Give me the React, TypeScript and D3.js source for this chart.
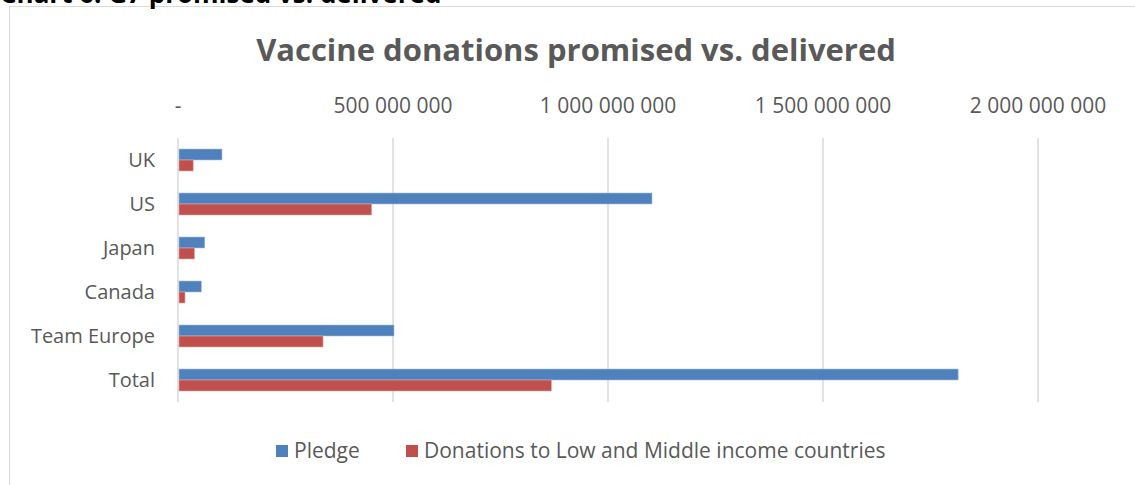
import React, { useEffect, useRef } from "react";
import * as d3 from "d3";

const categories = ["UK", "US", "Japan", "Canada", "Team Europe", "Total"];
const pledge = [100e6, 1100e6, 60e6, 52e6, 500e6, 1812e6];
const delivered = [33e6, 448e6, 36e6, 14e6, 335e6, 866e6];
const seriesNames = ["Pledge", "Donations to Low and Middle income countries"];
const seriesColors = ["#4F81BD", "#C0504D"];
const xTicks = [0, 500e6, 1000e6, 1500e6, 2000e6];

const FONT = "'Open Sans', Lato, sans-serif";

const App: React.FC = () => {
  const ref = useRef<SVGSVGElement | null>(null);

  useEffect(() => {
    const width = 1135;
    const height = 485;
    const margin = { top: 138, left: 178, right: 1135 - 1038, bottom: 485 - 402 };
    const w = width - margin.left - margin.right;
    const h = height - margin.top - margin.bottom;

    d3.select(ref.current).selectAll("*").remove();
    const root = d3.select(ref.current).attr("width", width).attr("height", height);

    // Chart frame
    root
      .append("rect")
      .attr("x", 9.5)
      .attr("y", 6.5)
      .attr("width", width + 10)
      .attr("height", height + 10)
      .attr("fill", "#fff")
      .attr("stroke", "#d9d9d9");

    // Caption, cut off by the top edge as in the source image
    root
      .append("text")
      .attr("x", 0)
      .attr("y", 3)
      .attr("font-family", FONT)
      .attr("font-weight", "bold")
      .attr("font-size", 26)
      .attr("fill", "#000")
      .text("Chart 6: G7 promised vs. delivered");

    root
      .append("text")
      .attr("x", 576)
      .attr("y", 61)
      .attr("text-anchor", "middle")
      .attr("font-family", FONT)
      .attr("font-weight", "bold")
      .attr("font-size", 31)
      .attr("fill", "#595959")
      .text("Vaccine donations promised vs. delivered");

    const svg = root.append("g").attr("transform", `translate(${margin.left},${margin.top})`);

    const x = d3.scaleLinear().domain([0, 2000e6]).range([0, w]);
    const y = d3.scaleBand().domain(categories).range([0, h]).paddingInner(0.5).paddingOuter(0.25);
    const inner = d3.scaleBand().domain(["0", "1"]).range([0, y.bandwidth()]);

    // Gridlines
    svg
      .selectAll(".grid")
      .data(xTicks)
      .enter()
      .append("line")
      .attr("x1", (d) => x(d))
      .attr("x2", (d) => x(d))
      .attr("y1", 0)
      .attr("y2", h)
      .attr("stroke", "#d9d9d9")
      .attr("stroke-width", 1.5);

    // Top axis labels
    const fmt = (d: number) => (d === 0 ? "-" : d3.format(",")(d).replace(/,/g, " "));
    svg
      .selectAll(".xlab")
      .data(xTicks)
      .enter()
      .append("text")
      .attr("x", (d) => x(d))
      .attr("y", -25)
      .attr("text-anchor", "middle")
      .attr("font-family", FONT)
      .attr("font-size", 21)
      .attr("fill", "#595959")
      .text((d) => fmt(d));

    // Category labels
    svg
      .selectAll(".ylab")
      .data(categories)
      .enter()
      .append("text")
      .attr("x", -23)
      .attr("y", (d) => (y(d) ?? 0) + y.bandwidth() / 2)
      .attr("dy", "0.35em")
      .attr("text-anchor", "end")
      .attr("font-family", FONT)
      .attr("font-size", 20)
      .attr("fill", "#595959")
      .text((d) => d);

    // Bars
    [pledge, delivered].forEach((vals, si) => {
      svg
        .selectAll(`.bar${si}`)
        .data(vals)
        .enter()
        .append("rect")
        .attr("x", x(0) + 1)
        .attr("y", (_, i) => (y(categories[i]) ?? 0) + (inner(String(si)) ?? 0))
        .attr("width", (d) => x(d) - x(0))
        .attr("height", inner.bandwidth())
        .attr("fill", seriesColors[si])
        .attr("stroke", si === 0 ? "#a7c0de" : "#e0a8a6")
        .attr("stroke-width", 0.6);
    });

    // Legend
    const legendX = [276, 406];
    seriesNames.forEach((name, i) => {
      const g = root.append("g").attr("transform", `translate(${legendX[i]},451)`);
      g.append("rect").attr("x", 0).attr("y", -6).attr("width", 12).attr("height", 12).attr("fill", seriesColors[i]);
      g.append("text")
        .attr("x", 18)
        .attr("y", 0)
        .attr("dy", "0.35em")
        .attr("font-family", FONT)
        .attr("font-size", 21)
        .attr("fill", "#595959")
        .text(name);
    });
  }, []);

  return <svg ref={ref} style={{ position: "absolute", left: 0, top: 0 }}></svg>;
};

export default App;
